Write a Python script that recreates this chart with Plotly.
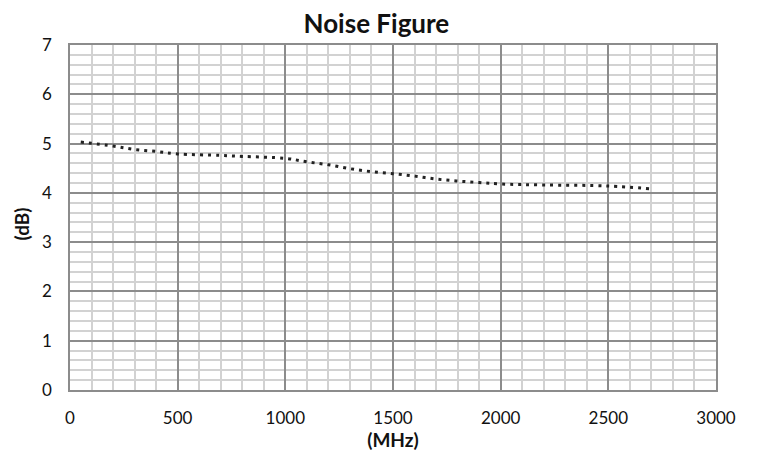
import plotly.graph_objects as go

freq_mhz = [50, 200, 300, 400, 500, 700, 800, 1000, 1100, 1200, 1300, 1400, 1500,
            1600, 1700, 1800, 1900, 2000, 2200, 2500, 2700]
nf_db = [5.03, 4.95, 4.88, 4.84, 4.79, 4.76, 4.74, 4.70, 4.63, 4.57, 4.49, 4.43, 4.39,
         4.34, 4.28, 4.24, 4.21, 4.18, 4.16, 4.14, 4.08]

title_text = "Noise Figure"
x_title = "(MHz)"
y_title = "(dB)"

FONT = "Lato"

fig = go.Figure()
fig.add_trace(go.Scatter(
    x=freq_mhz, y=nf_db, mode="lines",
    line=dict(color="#222222", width=3, dash="3px,5px", shape="spline"),
    showlegend=False,
))

fig.update_layout(
    width=758, height=458,
    margin=dict(l=62, r=50, t=37, b=76),
    paper_bgcolor="white", plot_bgcolor="white",
    title=dict(text="<b>" + title_text + "</b>", x=0.486, xanchor="center",
               y=0.966, yanchor="middle",
               font=dict(family=FONT, size=26, color="#111111")),
    font=dict(family=FONT, size=17, color="#111111"),
    annotations=[dict(
        text="<b>" + y_title + "</b>", textangle=-90,
        xref="paper", yref="paper", x=0, y=0.5,
        xanchor="center", yanchor="middle", xshift=-49, yshift=-7,
        showarrow=False, font=dict(family=FONT, size=19, color="#111111"),
    )],
)

fig.update_xaxes(
    range=[0, 3000], dtick=500, tick0=0,
    showgrid=True, gridcolor="#8c8c8c", gridwidth=1.5,
    minor=dict(dtick=100, showgrid=True, gridcolor="#d2d2d2", gridwidth=2),
    showline=True, linecolor="#8c8c8c", linewidth=1.5, mirror=True,
    zeroline=False, ticks="", ticklabelstandoff=12,
    tickfont=dict(family=FONT, size=17, color="#111111"),
    title=dict(text="<b>" + x_title + "</b>", standoff=5,
               font=dict(family=FONT, size=19, color="#111111")),
)
fig.update_yaxes(
    range=[0, 7], dtick=1, tick0=0,
    showgrid=True, gridcolor="#8c8c8c", gridwidth=1.5,
    minor=dict(dtick=0.2, showgrid=True, gridcolor="#d2d2d2", gridwidth=2),
    showline=True, linecolor="#8c8c8c", linewidth=1.5, mirror=True,
    zeroline=False, ticks="", ticklabelstandoff=13,
    tickfont=dict(family=FONT, size=17, color="#111111"),
)

fig.write_html("out.html")
